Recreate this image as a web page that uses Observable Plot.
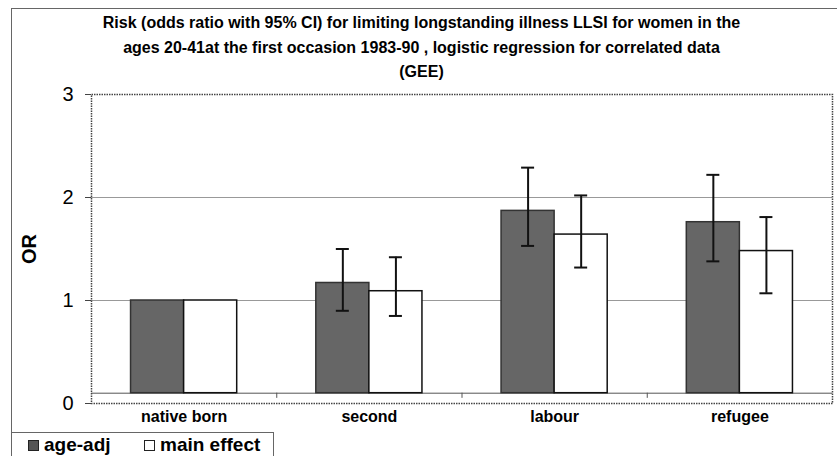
<!DOCTYPE html>
<html>
<head>
<meta charset="utf-8">
<script src="https://cdn.jsdelivr.net/npm/d3@7"></script>
<script src="https://cdn.jsdelivr.net/npm/@observablehq/plot@0.6"></script>
<style>
  html, body { margin: 0; padding: 0; background: #fff; }
  #wrap { position: relative; width: 837px; height: 456px; overflow: hidden; font-family: "Liberation Sans", Arial, sans-serif; }
  #border { position: absolute; left: 11px; top: 8px; width: 840px; height: 424px; border-left: 1px solid #666; border-top: 1px solid #666; box-sizing: border-box; }
  #title { position: absolute; left: 6px; top: 11px; width: 831px; text-align: center; font-weight: bold; font-size: 16px; line-height: 24.5px; color: #000; }
  #legend { position: absolute; left: 11px; top: 432px; width: 263px; height: 40px; border: 1px solid #666; box-sizing: border-box; font-weight: bold; font-size: 19px; color: #000; }
  .item { position: absolute; top: 0px; line-height: 24px; white-space: nowrap; }
  .sw { display: inline-block; width: 11px; height: 11px; box-sizing: border-box; border: 1px solid #222; margin-right: 5px; vertical-align: 0px; }
  #chart { position: absolute; left: 0; top: 0; }
</style>
</head>
<body>
<div id="wrap">
  <div id="border"></div>
  <div id="chart"></div>
  <div id="title"></div>
  <div id="legend"></div>
</div>
<script>
const titleLines = [
  "Risk (odds ratio with 95% CI) for limiting longstanding illness LLSI for women in the",
  "ages 20-41at the first occasion 1983-90 , logistic regression for correlated data",
  "(GEE)"
];
const categories = ["native born", "second", "labour", "refugee"];
const seriesNames = ["age-adj", "main effect"];
const ageAdj = [1.00, 1.17, 1.87, 1.76];
const ageAdjLo = [null, 0.90, 1.53, 1.38];
const ageAdjHi = [null, 1.50, 2.29, 2.22];
const mainEff = [1.00, 1.09, 1.64, 1.48];
const mainEffLo = [null, 0.85, 1.32, 1.07];
const mainEffHi = [null, 1.42, 2.02, 1.81];
const yTicks = [0, 1, 2, 3];
const gridValues = [1, 2];

const W = 837, H = 456;
const mL = 91, mR = 5, mT = 94, mB = 53;
const padIn = 0.427;
const step = (W - mL - mR) / categories.length;
const bw = step * (1 - padIn);
const half = bw / 2;
const capW = 13;
const floor = 0.1;

const rows = categories.map((c, i) => ({
  cat: c,
  a: ageAdj[i], aLo: ageAdjLo[i], aHi: ageAdjHi[i],
  m: mainEff[i], mLo: mainEffLo[i], mHi: mainEffHi[i]
}));
const errRows = rows.filter(d => d.aLo != null);

const capInA = { insetLeft: half / 2 - capW / 2, insetRight: bw - (half / 2 + capW / 2) };
const capInM = { insetLeft: half + half / 2 - capW / 2, insetRight: half / 2 - capW / 2 };

const chart = Plot.plot({
  width: W, height: H,
  marginLeft: mL, marginRight: mR, marginTop: mT, marginBottom: mB,
  style: { fontFamily: "Liberation Sans, Arial, sans-serif", background: "transparent", color: "#000" },
  x: { type: "band", domain: categories, paddingInner: padIn, paddingOuter: padIn / 2, round: false },
  y: { domain: [0, 3] },
  marks: [
    Plot.ruleY(gridValues, { stroke: "#999", strokeWidth: 1 }),
    Plot.ruleY([floor], { stroke: "#555", strokeWidth: 1 }),
    Plot.ruleX(categories.slice(0, -1), { x: d => d, y1: floor, y2: floor - 0.05, dx: step / 2, stroke: "#555" }),
    Plot.barY(rows, { x: "cat", y1: floor, y2: "a", fill: "#666", stroke: "#333", strokeWidth: 1.5, insetRight: half }),
    Plot.barY(rows, { x: "cat", y1: floor, y2: "m", fill: "#fff", stroke: "#111", strokeWidth: 1.5, insetLeft: half }),
    Plot.ruleX(errRows, { x: "cat", y1: "aLo", y2: "aHi", dx: -half / 2, stroke: "#111", strokeWidth: 2 }),
    Plot.tickY(errRows, { x: "cat", y: "aHi", stroke: "#111", strokeWidth: 2, ...capInA }),
    Plot.tickY(errRows, { x: "cat", y: "aLo", stroke: "#111", strokeWidth: 2, ...capInA }),
    Plot.ruleX(errRows, { x: "cat", y1: "mLo", y2: "mHi", dx: half / 2, stroke: "#111", strokeWidth: 2 }),
    Plot.tickY(errRows, { x: "cat", y: "mHi", stroke: "#111", strokeWidth: 2, ...capInM }),
    Plot.tickY(errRows, { x: "cat", y: "mLo", stroke: "#111", strokeWidth: 2, ...capInM }),
    Plot.frame({ stroke: "#444", strokeDasharray: "1.5,1", strokeWidth: 1.5 }),
    Plot.axisY({ ticks: yTicks, tickFormat: d3.format("d"), tickSize: 6, tickPadding: 12, fontSize: 20, label: null, stroke: "#444" }),
    Plot.axisY({ ticks: [], label: "OR", labelAnchor: "center", labelArrow: "none", labelOffset: 70, fontSize: 20, fontWeight: "bold" }),
    Plot.axisX({ tickSize: 0, tickPadding: 7, fontSize: 16, fontWeight: "bold", label: null })
  ]
});
document.getElementById("chart").appendChild(chart);

document.getElementById("title").innerHTML = titleLines.map(t => `<div>${t}</div>`).join("");

const legendFills = ["#555", "#fff"];
const legendX = [16, 132];
document.getElementById("legend").innerHTML = seriesNames.map((s, i) =>
  `<span class="item" style="left:${legendX[i]}px"><span class="sw" style="background:${legendFills[i]}"></span>${s}</span>`
).join("");
</script>
</body>
</html>
